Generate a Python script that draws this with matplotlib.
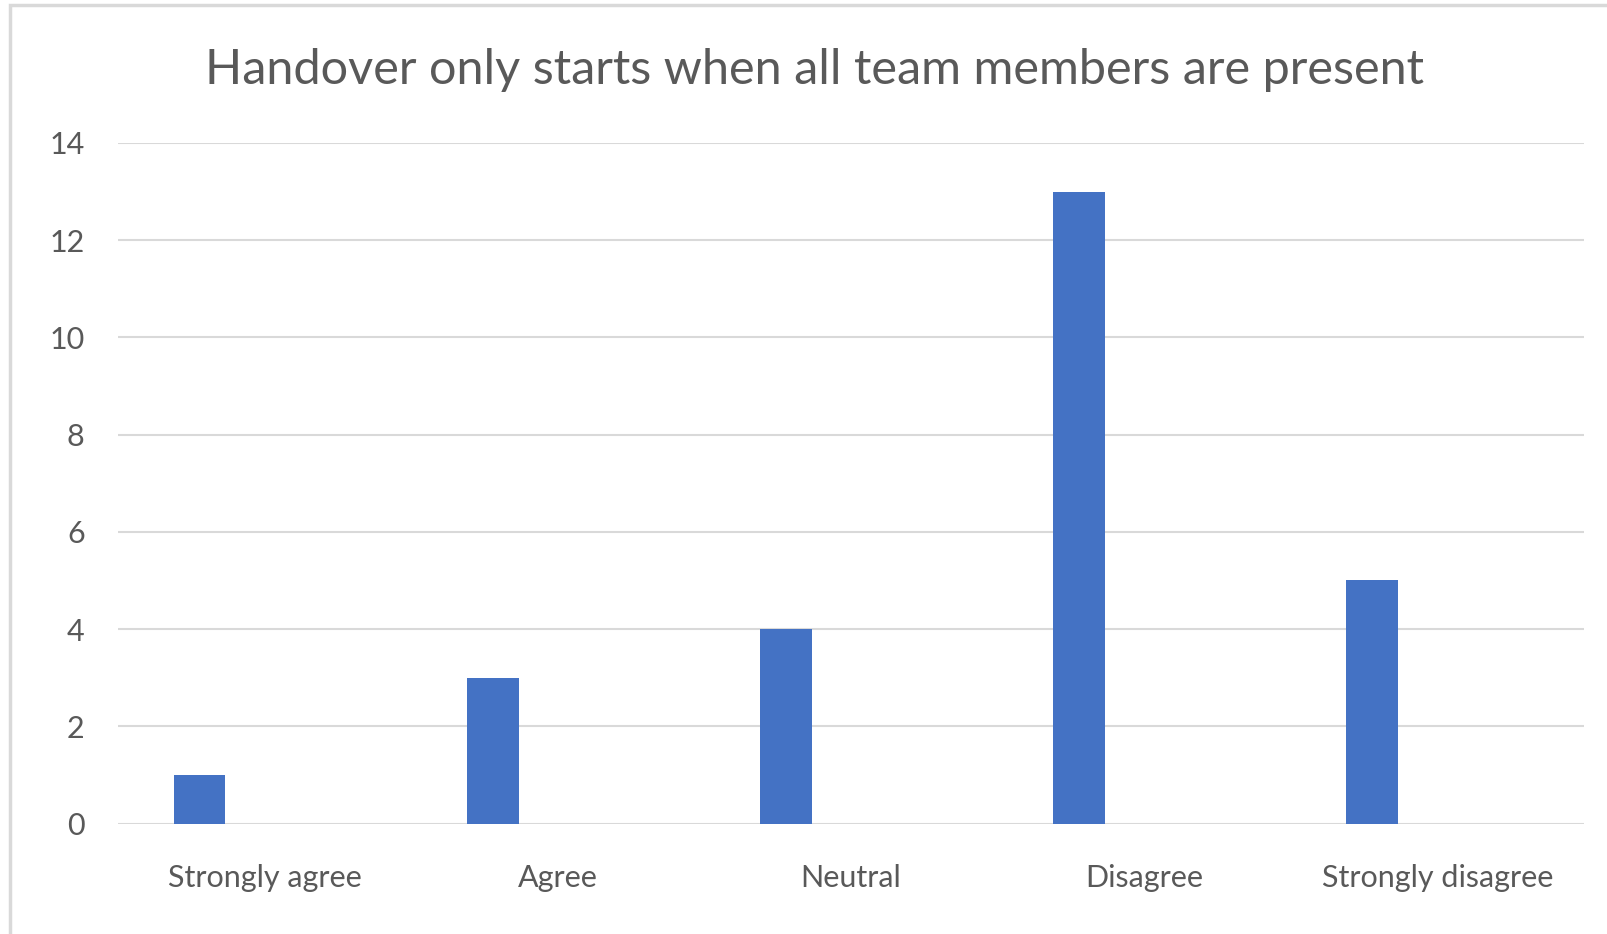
import matplotlib.pyplot as plt
from matplotlib.patches import Rectangle

categories = ["Strongly agree", "Agree", "Neutral", "Disagree", "Strongly disagree"]
counts = [1, 3, 4, 13, 5]
y_ticks = [0, 2, 4, 6, 8, 10, 12, 14]
title = "Handover only starts when all team members are present"

TEXT = "#595959"
GRID = "#d9d9d9"
BAR = "#4472C4"

plt.rcParams["font.family"] = ["Lato", "DejaVu Sans"]

W, H = 1608, 934
fig = plt.figure(figsize=(W / 100, H / 100), dpi=100)

# outer chart frame (runs off the right and bottom edges)
fig.patches.append(Rectangle((10 / W, -0.1), 1.2, 1 - 5 / H + 0.1,
                             transform=fig.transFigure, fill=False,
                             edgecolor=GRID, linewidth=2.5))

ax = fig.add_axes([118 / W, 1 - 823.5 / H, (1584 - 118) / W, (823.5 - 143) / H])

x = list(range(len(categories)))
bar_x = [i - 0.222 for i in x]
ax.bar(bar_x, counts, width=0.177, color=BAR, zorder=3)

ax.set_xlim(-0.5, len(categories) - 0.5)
ax.set_ylim(0, 14)
ax.set_yticks(y_ticks)
ax.set_xticks(x)
ax.set_xticklabels(categories)
ax.yaxis.grid(True, color=GRID, linewidth=1.5, zorder=0)
ax.tick_params(axis="both", length=0, labelsize=22, labelcolor=TEXT)
ax.tick_params(axis="y", pad=24)
ax.tick_params(axis="x", pad=29)
for s in ax.spines.values():
    s.set_visible(False)

fig.text(815 / W, 1 - 70 / H, title, ha="center", va="center",
         fontsize=35, color=TEXT)

fig.savefig("out.png", dpi=100)
